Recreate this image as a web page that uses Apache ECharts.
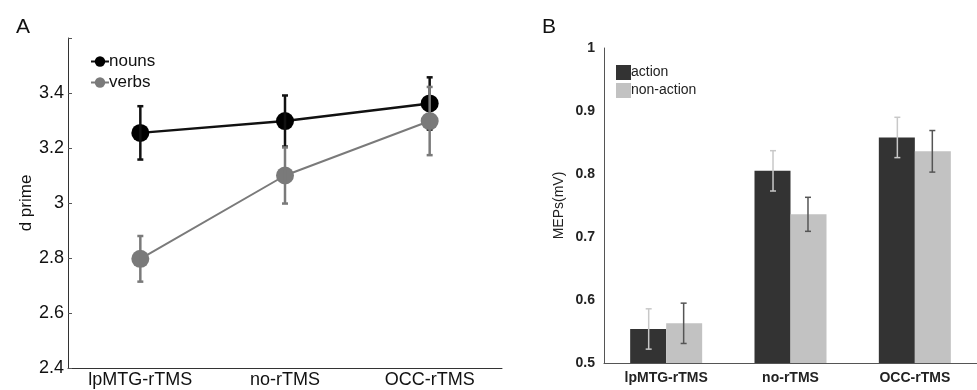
<!DOCTYPE html>
<html><head><meta charset="utf-8">
<script src="https://cdn.jsdelivr.net/npm/echarts@6/dist/echarts.min.js"></script>
<style>html,body{margin:0;padding:0;background:#fff}#c{width:977px;height:390px}</style>
</head><body><div id="c"></div>
<script>
// Panel A data
const categories = ['lpMTG-rTMS', 'no-rTMS', 'OCC-rTMS'];
const nounsMean = [3.255, 3.298, 3.362];
const nounsErr  = [0.097, 0.093, 0.095];
const verbsMean = [2.797, 3.100, 3.298];
const verbsErr  = [0.083, 0.102, 0.124];
const yTicksA = [2.4, 2.6, 2.8, 3, 3.2, 3.4];
// Panel B data
const actionMean = [0.554, 0.805, 0.858];
const actionErr  = [0.032, 0.032, 0.032];
const nonActionMean = [0.563, 0.736, 0.836];
const nonActionErr  = [0.032, 0.027, 0.033];
const yTicksB = [0.5, 0.6, 0.7, 0.8, 0.9, 1];

const FONT = 'Liberation Sans, Arial, sans-serif';

function errData(mean, err) {
  return mean.map((m, i) => [i, m - err[i], m + err[i]]);
}
function errRender(color, width, capHalf, offsetFrac) {
  return function (params, api) {
    const band = api.size([1, 0])[0];
    const off = band * offsetFrac;
    const lo = api.coord([api.value(0), api.value(1)]);
    const hi = api.coord([api.value(0), api.value(2)]);
    const x = lo[0] + off;
    const st = { stroke: color, lineWidth: width };
    return {
      type: 'group',
      children: [
        { type: 'line', shape: { x1: x, y1: lo[1], x2: x, y2: hi[1] }, style: st },
        { type: 'line', shape: { x1: x - capHalf, y1: lo[1], x2: x + capHalf, y2: lo[1] }, style: st },
        { type: 'line', shape: { x1: x - capHalf, y1: hi[1], x2: x + capHalf, y2: hi[1] }, style: st }
      ]
    };
  };
}
function fmtA(v) { return yTicksA.some(t => Math.abs(t - v) < 1e-6) ? String(Math.round(v * 10) / 10) : ''; }
function fmtB(v) { return yTicksB.some(t => Math.abs(t - v) < 1e-6) ? String(Math.round(v * 10) / 10) : ''; }

const chart = echarts.init(document.getElementById('c'), null, { renderer: 'canvas' });
chart.setOption({
  animation: false,
  backgroundColor: '#fff',
  textStyle: { fontFamily: FONT },
  title: [
    { text: 'A', left: 11, top: 12, textStyle: { fontSize: 21, fontWeight: 'normal', color: '#111', fontFamily: FONT } },
    { text: 'B', left: 537, top: 12, textStyle: { fontSize: 21, fontWeight: 'normal', color: '#111', fontFamily: FONT } }
  ],
  legend: [
    { data: ['nouns', 'verbs'], orient: 'vertical', left: 85, top: 48, itemWidth: 18, itemHeight: 13, itemGap: 4,
      textStyle: { fontSize: 17, color: '#111', fontFamily: FONT, padding: [0, 0, 0, -5] } },
    { data: ['action', 'non-action'], orient: 'vertical', left: 611, top: 60, itemWidth: 15, itemHeight: 15, itemGap: 3,
      icon: 'rect', textStyle: { fontSize: 14, color: '#222', fontFamily: FONT, padding: [0, 0, 0, -5] } }
  ],
  grid: [
    { left: 68, top: 38, width: 434, height: 330 },
    { left: 604, top: 48, width: 384, height: 315 }
  ],
  xAxis: [
    { type: 'category', gridIndex: 0, data: categories, boundaryGap: true,
      axisLine: { lineStyle: { color: '#333', width: 1 } },
      axisTick: { inside: true, alignWithLabel: true, length: 5, lineStyle: { color: '#555' } },
      axisLabel: { fontSize: 18, color: '#111', margin: 3, fontFamily: FONT } },
    { type: 'category', gridIndex: 1, data: categories, boundaryGap: true,
      axisLine: { lineStyle: { color: '#555', width: 1 } },
      axisTick: { show: false },
      axisLabel: { fontSize: 14, color: '#222', margin: 8, fontWeight: 'bold', fontFamily: FONT } }
  ],
  yAxis: [
    { type: 'value', gridIndex: 0, min: 2.4, max: 3.6, interval: 0.2,
      name: 'd prime', nameLocation: 'middle', nameGap: 30, nameRotate: 90,
      nameTextStyle: { fontSize: 17, color: '#111', fontFamily: FONT },
      splitLine: { show: false },
      axisLine: { show: true, lineStyle: { color: '#333', width: 1 } },
      axisTick: { show: true, inside: true, length: 4, lineStyle: { color: '#555' } },
      axisLabel: { fontSize: 18, color: '#111', margin: 4, formatter: fmtA, fontFamily: FONT } },
    { type: 'value', gridIndex: 1, min: 0.5, max: 1, interval: 0.1,
      name: 'MEPs(mV)', nameLocation: 'middle', nameGap: 38, nameRotate: 90,
      nameTextStyle: { fontSize: 14, color: '#222', fontFamily: FONT },
      splitLine: { show: false },
      axisLine: { show: true, lineStyle: { color: '#555', width: 1 } },
      axisTick: { show: false },
      axisLabel: { fontSize: 14, color: '#222', margin: 9, fontWeight: 'bold', formatter: fmtB, fontFamily: FONT } }
  ],
  series: [
    { name: 'nouns', type: 'line', xAxisIndex: 0, yAxisIndex: 0, data: nounsMean,
      symbol: 'circle', symbolSize: 18, itemStyle: { color: '#000' }, lineStyle: { color: '#111', width: 2.5 }, z: 3 },
    { name: 'nounsErr', type: 'custom', xAxisIndex: 0, yAxisIndex: 0, data: errData(nounsMean, nounsErr),
      renderItem: errRender('#111', 2.5, 3, 0), z: 4 },
    { name: 'verbs', type: 'line', xAxisIndex: 0, yAxisIndex: 0, data: verbsMean,
      symbol: 'circle', symbolSize: 18, itemStyle: { color: '#7a7a7a' }, lineStyle: { color: '#7a7a7a', width: 2 }, z: 5 },
    { name: 'verbsErr', type: 'custom', xAxisIndex: 0, yAxisIndex: 0, data: errData(verbsMean, verbsErr),
      renderItem: errRender('#7a7a7a', 2.5, 3, 0), z: 6 },
    { name: 'action', type: 'bar', xAxisIndex: 1, yAxisIndex: 1, data: actionMean,
      barWidth: 36, barGap: '0%', itemStyle: { color: '#333333' } },
    { name: 'non-action', type: 'bar', xAxisIndex: 1, yAxisIndex: 1, data: nonActionMean,
      barWidth: 36, barGap: '0%', itemStyle: { color: '#c2c2c2' } },
    { name: 'actionErr', type: 'custom', xAxisIndex: 1, yAxisIndex: 1, data: errData(actionMean, actionErr),
      renderItem: errRender('#c8c8c8', 1.5, 3, -18 / 128), z: 5 },
    { name: 'nonActionErr', type: 'custom', xAxisIndex: 1, yAxisIndex: 1, data: errData(nonActionMean, nonActionErr),
      renderItem: errRender('#555555', 1.5, 3, 18 / 128), z: 5 }
  ]
});
</script>
</body></html>
